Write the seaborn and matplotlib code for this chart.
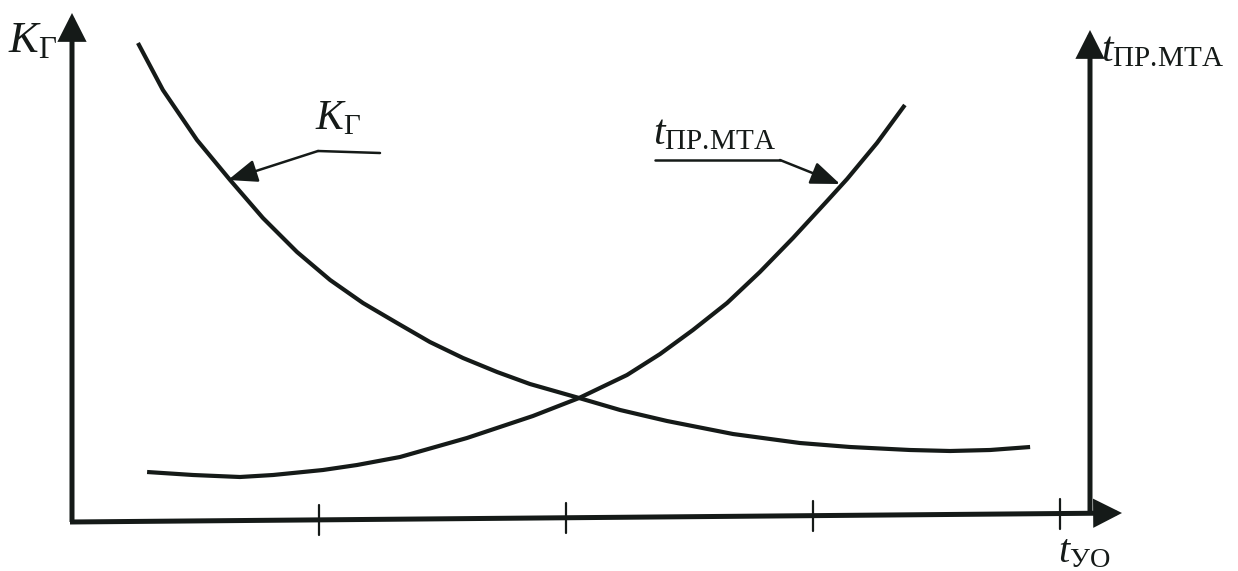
import numpy as np
import pandas as pd
import seaborn as sns
import matplotlib.pyplot as plt

# ---- data (x in units of t_УО tick spacing, y in arbitrary chart units) ----
kg_x = [0.267, 0.368, 0.506, 0.640, 0.773, 0.911, 1.045, 1.178, 1.316, 1.449,
        1.583, 1.721, 1.854, 2.053, 2.219, 2.409, 2.676, 2.947, 3.150, 3.393,
        3.555, 3.717, 3.879]
kg_y = [4.77, 4.30, 3.80, 3.40, 3.02, 2.68, 2.40, 2.17, 1.97, 1.78,
        1.62, 1.48, 1.36, 1.22, 1.10, 0.99, 0.86, 0.77, 0.73, 0.70,
        0.69, 0.70, 0.73]

tpr_x = [0.304, 0.490, 0.680, 0.814, 1.016, 1.154, 1.328, 1.599, 1.866, 2.053,
         2.247, 2.381, 2.514, 2.652, 2.785, 2.919, 3.057, 3.138, 3.259, 3.372]
tpr_y = [0.48, 0.45, 0.43, 0.45, 0.50, 0.55, 0.63, 0.82, 1.04, 1.22,
         1.45, 1.66, 1.90, 2.17, 2.48, 2.82, 3.19, 3.41, 3.77, 4.15]

x_ticks = [1, 2, 3, 4]

label_k = r'$K_{\mathrm{Г}}$'
label_t = r'$t_{\mathrm{ПР.\!МТА}}$'
label_x = r'$t_{\mathrm{УО}}$'

# ---- style ----
sns.set_theme(style='white')
plt.rcParams['font.family'] = ['Liberation Serif', 'DejaVu Serif']
plt.rcParams['mathtext.fontset'] = 'custom'
plt.rcParams['mathtext.rm'] = 'Liberation Serif'
plt.rcParams['mathtext.it'] = 'Liberation Serif:italic'
plt.rcParams['mathtext.bf'] = 'Liberation Serif:bold'

INK = '#151a18'

fig = plt.figure(figsize=(12.38, 5.71), dpi=100)
ax = fig.add_axes([0, 0, 1, 1])
fig.patch.set_facecolor('white')

# pixel -> data helpers (for placing annotations only)
def X(px):
    return (px - 72) / 247.0

def Y(py):
    return (520 - py) / 100.0

df_k = pd.DataFrame({'x': kg_x, 'y': kg_y})
df_t = pd.DataFrame({'x': tpr_x, 'y': tpr_y})
sns.lineplot(data=df_k, x='x', y='y', ax=ax, color=INK, lw=3.0, sort=True,
             solid_capstyle='butt', solid_joinstyle='round')
sns.lineplot(data=df_t, x='x', y='y', ax=ax, color=INK, lw=3.0, sort=True,
             solid_capstyle='butt', solid_joinstyle='round')
ax.set_xlim(X(0), X(1238))
ax.set_ylim(Y(571), Y(0))
ax.set_axis_off()

# ---- axes with arrows (slight scan tilt on the horizontal axis) ----
def base_y(x):
    # horizontal axis goes from y(px)=522 at left to 513 at right
    return Y(522) + (Y(513) - Y(522)) * (x - X(72)) / (X(1122) - X(72))

ax_style = dict(arrowstyle='-|>,head_length=0.75,head_width=0.38',
                mutation_scale=20, lw=3.6, color=INK, shrinkA=0, shrinkB=0,
                joinstyle='miter', capstyle='butt')

ax.annotate('', xy=(X(72), Y(13)), xytext=(X(72), Y(522)), arrowprops=ax_style)
ax.annotate('', xy=(X(1090), Y(30)), xytext=(X(1090), base_y(X(1090))),
            arrowprops=ax_style)
ax.annotate('', xy=(X(1122), Y(513)), xytext=(X(70), Y(522)), arrowprops=ax_style)

for xt in x_ticks:
    yb = base_y(xt)
    ax.plot([xt, xt], [yb - 0.15, yb + 0.15], color=INK, lw=1.6)

# ---- labels ----
ax.text(X(8), Y(52), label_k, fontsize=32, color=INK, ha='left', va='baseline')
ax.text(X(1101), Y(61), label_t, fontsize=30, color=INK, ha='left', va='baseline')
ax.text(X(1058), Y(562), label_x, fontsize=29, color=INK, ha='left', va='baseline')

ax.text(X(315), Y(129), label_k, fontsize=30, color=INK, ha='left', va='baseline')
ax.text(X(653), Y(144), label_t, fontsize=30, color=INK, ha='left', va='baseline')

# ---- pointer arrows ----
ptr_style = dict(arrowstyle='-|>,head_length=0.9,head_width=0.35',
                 mutation_scale=20, lw=1.8, color=INK, shrinkA=0, shrinkB=0)
ax.plot([X(318), X(380)], [Y(151), Y(153)], color=INK, lw=1.8)
ax.annotate('', xy=(X(228), Y(180)), xytext=(X(318), Y(151)), arrowprops=ptr_style)

ax.plot([X(655), X(780)], [Y(160), Y(160)], color=INK, lw=1.8)
ax.annotate('', xy=(X(840), Y(184)), xytext=(X(780), Y(160)), arrowprops=ptr_style)

fig.savefig('out.png', dpi=100, facecolor='white')
